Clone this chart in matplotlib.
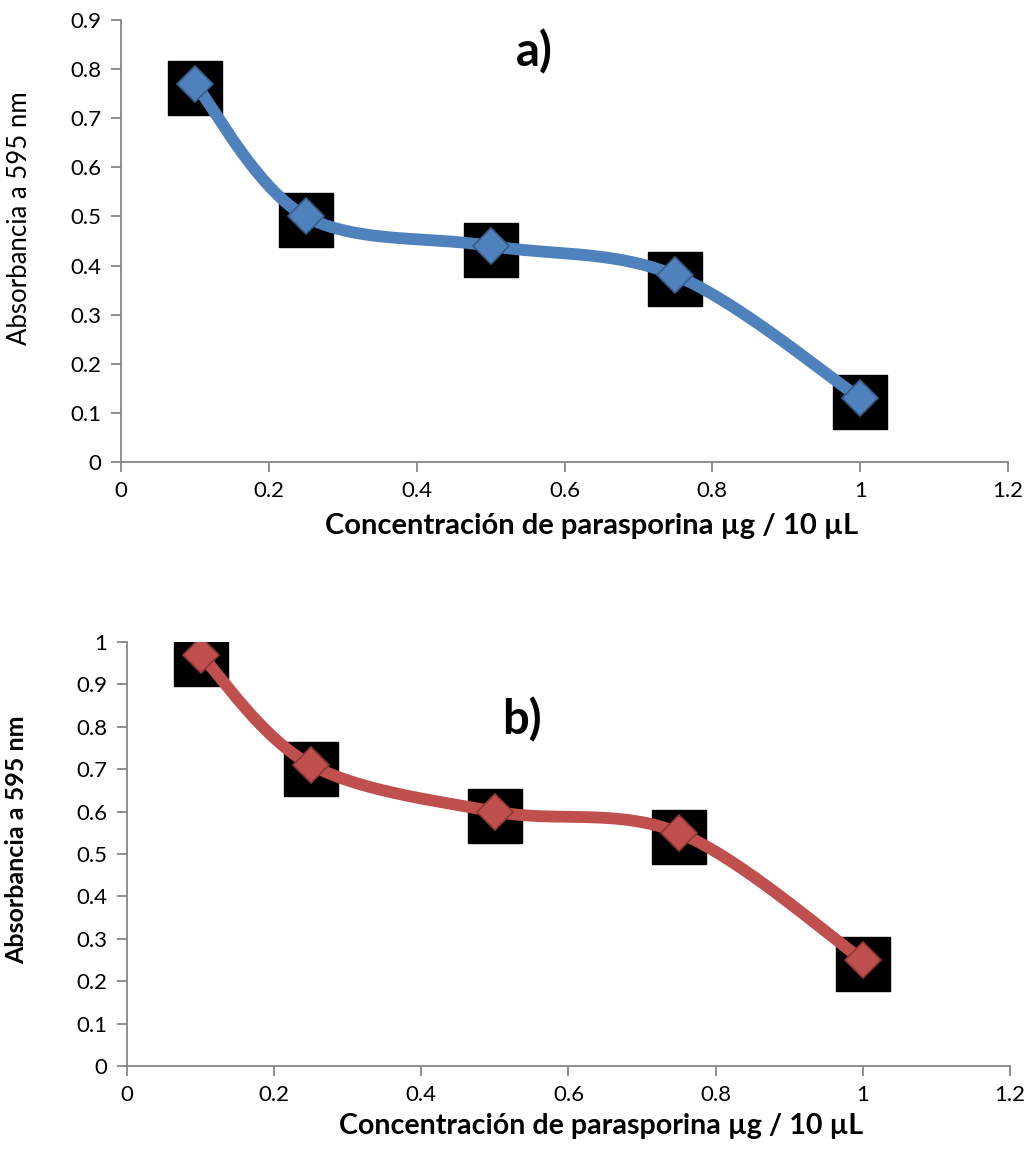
import matplotlib.pyplot as plt
import matplotlib.transforms as mtransforms
import numpy as np
from matplotlib.ticker import FuncFormatter

plt.rcParams['font.family'] = ['Lato', 'DejaVu Sans']

# Datos
concentracion = [0.1, 0.25, 0.5, 0.75, 1.0]
absorbancia_a = [0.77, 0.50, 0.44, 0.38, 0.13]
absorbancia_b = [0.97, 0.71, 0.60, 0.55, 0.25]

x_label = "Concentración de parasporina µg / 10 µL"
y_label = "Absorbancia a 595 nm"

gris = "#868686"


def curva_suave(x, y, n=40):
    # Bezier tipo Excel (Catmull-Rom) entre los puntos
    p = np.column_stack((x, y)).astype(float)
    p_ext = np.vstack((p[0], p, p[-1]))
    xs, ys = [], []
    t = np.linspace(0, 1, n)[:, None]
    for i in range(len(p) - 1):
        p0, p3 = p_ext[i + 1], p_ext[i + 2]
        c1 = p0 + (p_ext[i + 2] - p_ext[i]) / 6
        c2 = p3 - (p_ext[i + 3] - p_ext[i + 1]) / 6
        b = (1 - t) ** 3 * p0 + 3 * (1 - t) ** 2 * t * c1 + 3 * (1 - t) * t ** 2 * c2 + t ** 3 * p3
        xs.extend(b[:, 0])
        ys.extend(b[:, 1])
    return np.array(xs), np.array(ys)


def dibujar(ax, y, ymax, color, borde, titulo, titulo_pos, ylabel_bold, xlabel_pos, ylabel_pos,
            xlabel_size):
    xs, ys = curva_suave(concentracion, y)
    ax.plot(xs, ys, color=color, lw=8.5, solid_capstyle="round", zorder=2)
    sombra = ax.transData + mtransforms.ScaledTranslation(0, -0.04, ax.figure.dpi_scale_trans)
    ax.plot(concentracion, y, "s", ms=39, color="black", transform=sombra, zorder=1)
    ax.plot(concentracion, y, "D", ms=18.5, mfc=color, mec=borde, mew=1.2, zorder=3)

    ax.set_xlim(0, 1.2)
    ax.set_ylim(0, ymax)
    ax.set_xticks(np.arange(0, 1.21, 0.2))
    ax.set_yticks(np.arange(0, ymax + 0.01, 0.1))
    fmt = FuncFormatter(lambda v, p: "%g" % round(v, 2))
    ax.xaxis.set_major_formatter(fmt)
    ax.yaxis.set_major_formatter(fmt)
    for s in ["top", "right"]:
        ax.spines[s].set_visible(False)
    for s in ["left", "bottom"]:
        ax.spines[s].set_color(gris)
        ax.spines[s].set_linewidth(1.3)
    ax.tick_params(colors=gris, labelcolor="black", labelsize=16, length=7, width=1.3, pad=7)
    ax.set_xlabel(x_label, fontsize=xlabel_size, fontweight="bold")
    ax.xaxis.set_label_coords(*xlabel_pos)
    if ylabel_bold:
        ax.set_ylabel(y_label, fontsize=18, fontweight="bold")
    else:
        ax.set_ylabel(y_label, fontsize=18.5)
    ax.yaxis.set_label_coords(*ylabel_pos)
    ax.text(titulo_pos[0], titulo_pos[1], titulo, transform=ax.transAxes,
            fontsize=34, fontweight="bold", ha="center", va="center")


fig = plt.figure(figsize=(10.31, 11.56), dpi=100)
ax1 = fig.add_axes([0.1174, 0.6003, 0.8603, 0.3824])
ax2 = fig.add_axes([0.1232, 0.0779, 0.8564, 0.3667])

dibujar(ax1, absorbancia_a, 0.9, "#4F81BD", "#385D8A", "a)", (0.466, 0.928), False,
        (0.530, -0.115), (-0.100, 0.552), 21)
dibujar(ax2, absorbancia_b, 1.0, "#C0504D", "#8C3836", "b)", (0.447, 0.816), True,
        (0.537, -0.11), (-0.112, 0.533), 20.6)

plt.savefig("out.png", dpi=100)
